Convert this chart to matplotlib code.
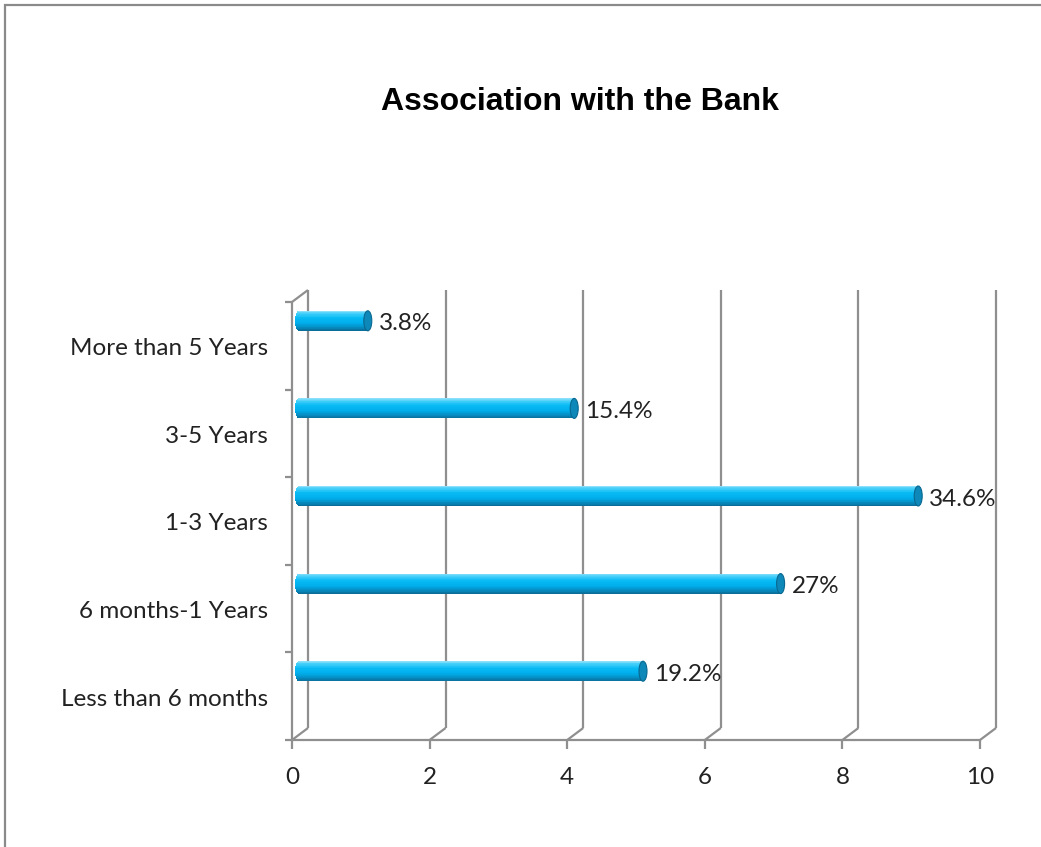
import numpy as np
import matplotlib
matplotlib.use("Agg")
import matplotlib.pyplot as plt
from matplotlib.patches import Ellipse, Rectangle

# survey answers: how long the respondent has been with the bank
categories = ["Less than 6 months", "6 months-1 Years", "1-3 Years", "3-5 Years", "More than 5 Years"]
counts = [5, 7, 9, 4, 1]
pct_labels = ["19.2%", "27%", "34.6%", "15.4%", "3.8%"]
x_ticks = [0, 2, 4, 6, 8, 10]

W, H, DPI = 1041, 847, 100
GRID = "#8f8f8f"
TXT = "#222222"
FS = 17.5
plt.rcParams["font.family"] = ["Lato", "DejaVu Sans"]

fig = plt.figure(figsize=(W / DPI, H / DPI), dpi=DPI)
ax = fig.add_axes([292 / W, (H - 740) / H, 688 / W, 438 / H])
ax.set_xlim(0, 10)
ax.set_ylim(-0.5, len(categories) - 0.5)
ax.axis("off")

# pixel -> data unit helpers (axes are fixed size, linear scales)
px_x = (x_ticks[-1] - x_ticks[0]) / 688.0
px_y = len(categories) / 438.0
y0, y1 = -0.5, len(categories) - 0.5

# pseudo-3D frame: front wall + back wall shifted up/right
dx, dy = 16 * px_x, 12 * px_y
line = dict(color=GRID, lw=1.6, clip_on=False, solid_capstyle="butt", zorder=2)
ax.plot([0, 10], [y0, y0], **line)
ax.plot([0, 0], [y0, y1], **line)
ax.plot([0, dx], [y1, y1 + dy], **line)
for t in x_ticks:
    ax.plot([t + dx, t + dx], [y0 + dy, y1 + dy], **line)
    ax.plot([t, t + dx], [y0, y0 + dy], **line)
    ax.plot([t, t], [y0, y0 - 9 * px_y], **line)
    ax.annotate(str(t), (t, y0), xytext=(0, -37), textcoords="offset pixels",
                ha="center", va="center", fontsize=FS, color=TXT)
for b in np.arange(y0, y1 + 0.01, 1.0):
    ax.plot([0, -7 * px_x], [b, b], **line)

for i, name in enumerate(categories):
    ax.annotate(name, (0, i), xytext=(-24, -3), textcoords="offset pixels",
                ha="right", va="center", fontsize=FS, color=TXT)

# cylinder bars: horizontal strips with a vertical shading ramp
bx, by = 7 * px_x, 25 * px_y
h = 20 * px_y
a = 4 * px_x
yc = np.arange(len(categories)) + by
vals = np.array(counts, dtype=float)
stops_t = [-1.0, -0.6, -0.2, 0.3, 0.75, 1.0]
stops_c = np.array([[0x0b, 0x6a, 0x95], [0x05, 0x92, 0xc8], [0x00, 0xae, 0xec],
                    [0x08, 0xba, 0xf4], [0x45, 0xcf, 0xf9], [0x96, 0xe2, 0xfb]]) / 255.0
n = 28
for k in range(n):
    t = -1 + (2 * k + 1) / n
    col = [np.interp(t, stops_t, stops_c[:, c]) for c in range(3)]
    round_in = a * np.sqrt(max(0.0, 1 - t * t))
    ax.barh(yc + t * h / 2, vals + round_in, left=bx - round_in,
            height=h / n * 1.15, color=col, linewidth=0, clip_on=False, zorder=3)

for v, y, lab in zip(vals, yc, pct_labels):
    ax.add_patch(Ellipse((v + bx, y), 2 * a, h, facecolor="#0d88b9",
                         edgecolor="#0a6890", lw=0.8, clip_on=False, zorder=4))
    ax.annotate(lab, (v + bx + a, y), xytext=(7, -3), textcoords="offset pixels",
                ha="left", va="center", fontsize=FS, color=TXT, zorder=5)

fig.text(580 / W, 1 - 102 / H, "Association with the Bank", ha="center", va="center",
         fontsize=23, fontweight="bold", family="Liberation Sans", color="black")

# chart area border
fig.add_artist(Rectangle((4.5 / W, -0.5), 2, 1.5 - 5 / H, transform=fig.transFigure,
                         fill=False, edgecolor="#8a8a8a", lw=1.6))

fig.savefig("out.png", dpi=DPI, facecolor="white")
